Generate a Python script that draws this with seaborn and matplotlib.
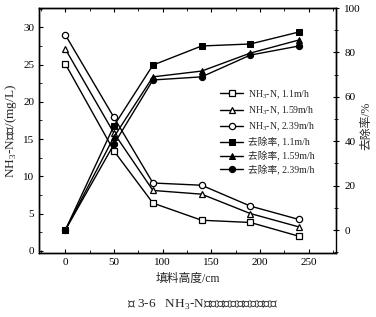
import matplotlib
matplotlib.use("Agg")
import matplotlib.pyplot as plt
import seaborn as sns
import pandas as pd
from matplotlib.ticker import MultipleLocator

height = [0, 50, 90, 140, 190, 240]
nh3_11 = [25.1, 13.4, 6.4, 4.1, 3.8, 1.95]
nh3_159 = [27.1, 15.8, 8.1, 7.6, 5.0, 3.2]
nh3_239 = [29.0, 17.9, 9.1, 8.8, 6.0, 4.2]
rem_11 = [0, 47, 74.3, 82.9, 83.8, 89.2]
rem_159 = [0, 42, 69, 71.6, 79.7, 85.6]
rem_239 = [0, 38.7, 67.6, 69, 78.8, 82.9]

nh3_labels = ["NH$_3$-N, 1.1m/h", "NH$_3$-N, 1.59m/h", "NH$_3$-N, 2.39m/h"]
rem_labels = ["去除率, 1.1m/h", "去除率, 1.59m/h", "去除率, 2.39m/h"]
x_label = "填料高度/cm"
y_label = "NH$_3$-N浓度/(mg/L)"
y2_label = "去除率/%"
caption = "图 3-6   NH$_3$-N去除率与填料高度的关系"

sns.set_style("ticks")
plt.rcParams['font.family'] = ['Liberation Serif', 'Noto Sans CJK SC']
plt.rcParams['mathtext.fontset'] = 'custom'
plt.rcParams['mathtext.rm'] = 'Liberation Serif'
plt.rcParams['axes.unicode_minus'] = False

fig = plt.figure(figsize=(3.76, 3.17), dpi=100)
ax = fig.add_axes([39/376, 1-253/317, 297/376, 245/317])
ax2 = ax.twinx()

markers = ['s', '^', 'o']
handles = []
for vals, lab, m in zip([nh3_11, nh3_159, nh3_239], nh3_labels, markers):
    df = pd.DataFrame({"x": height, "y": vals})
    sns.lineplot(data=df, x="x", y="y", ax=ax, color='black', lw=1.0,
                 marker=m, markersize=4.5, markerfacecolor='white',
                 markeredgecolor='black', markeredgewidth=0.9, label=lab, legend=False)
    handles.append(ax.lines[-1])
for vals, lab, m in zip([rem_11, rem_159, rem_239], rem_labels, markers):
    df = pd.DataFrame({"x": height, "y": vals})
    sns.lineplot(data=df, x="x", y="y", ax=ax2, color='black', lw=1.0,
                 marker=m, markersize=4.5, markerfacecolor='black',
                 markeredgecolor='black', label=lab, legend=False)
    handles.append(ax2.lines[-1])

ax.set_xlim(-27, 278)
ax.set_ylim(-0.3, 32.6)
ax2.set_ylim(-10.3, 100)
ax.xaxis.set_major_locator(MultipleLocator(50))
ax.xaxis.set_minor_locator(MultipleLocator(25))
ax.yaxis.set_major_locator(MultipleLocator(5))
ax.yaxis.set_minor_locator(MultipleLocator(2.5))
ax2.yaxis.set_major_locator(MultipleLocator(20))
ax2.yaxis.set_minor_locator(MultipleLocator(10))
ax2.spines['right'].set_bounds(0, 100)
ax2.spines['right'].set_position(('data', 278))
for a in (ax, ax2):
    for s in a.spines.values():
        s.set_linewidth(1.0)
        s.set_color('black')
ax.tick_params(axis='both', which='both', direction='in', labelsize=8, colors='black')
ax.tick_params(axis='x', which='both', top=True)
ax.tick_params(which='major', length=3)
ax.tick_params(which='minor', length=2)
ax2.tick_params(axis='y', which='both', direction='inout', labelsize=8, colors='black')
ax2.tick_params(which='major', length=5)
ax2.tick_params(which='minor', length=3)

ax.set_xlabel(x_label, fontsize=8.5, labelpad=4)
ax.set_ylabel(y_label, fontsize=9.5, labelpad=3)
ax2.set_ylabel("")
fig.text(366/376, 1-126/317, y2_label, rotation=90, ha='center', va='center',
         fontsize=8.5)

leg = ax2.legend(handles=handles, labels=nh3_labels + rem_labels,
                 loc='upper left', bbox_to_anchor=(220/376, 1-88/317),
                 bbox_transform=fig.transFigure, frameon=False, fontsize=7,
                 handlelength=2.4, handletextpad=0.5, labelspacing=0.38,
                 borderpad=0, borderaxespad=0)

fig.text(0.54, 1-305/317, caption, ha='center', va='center', fontsize=9.5)

fig.savefig("out.png", dpi=100)
